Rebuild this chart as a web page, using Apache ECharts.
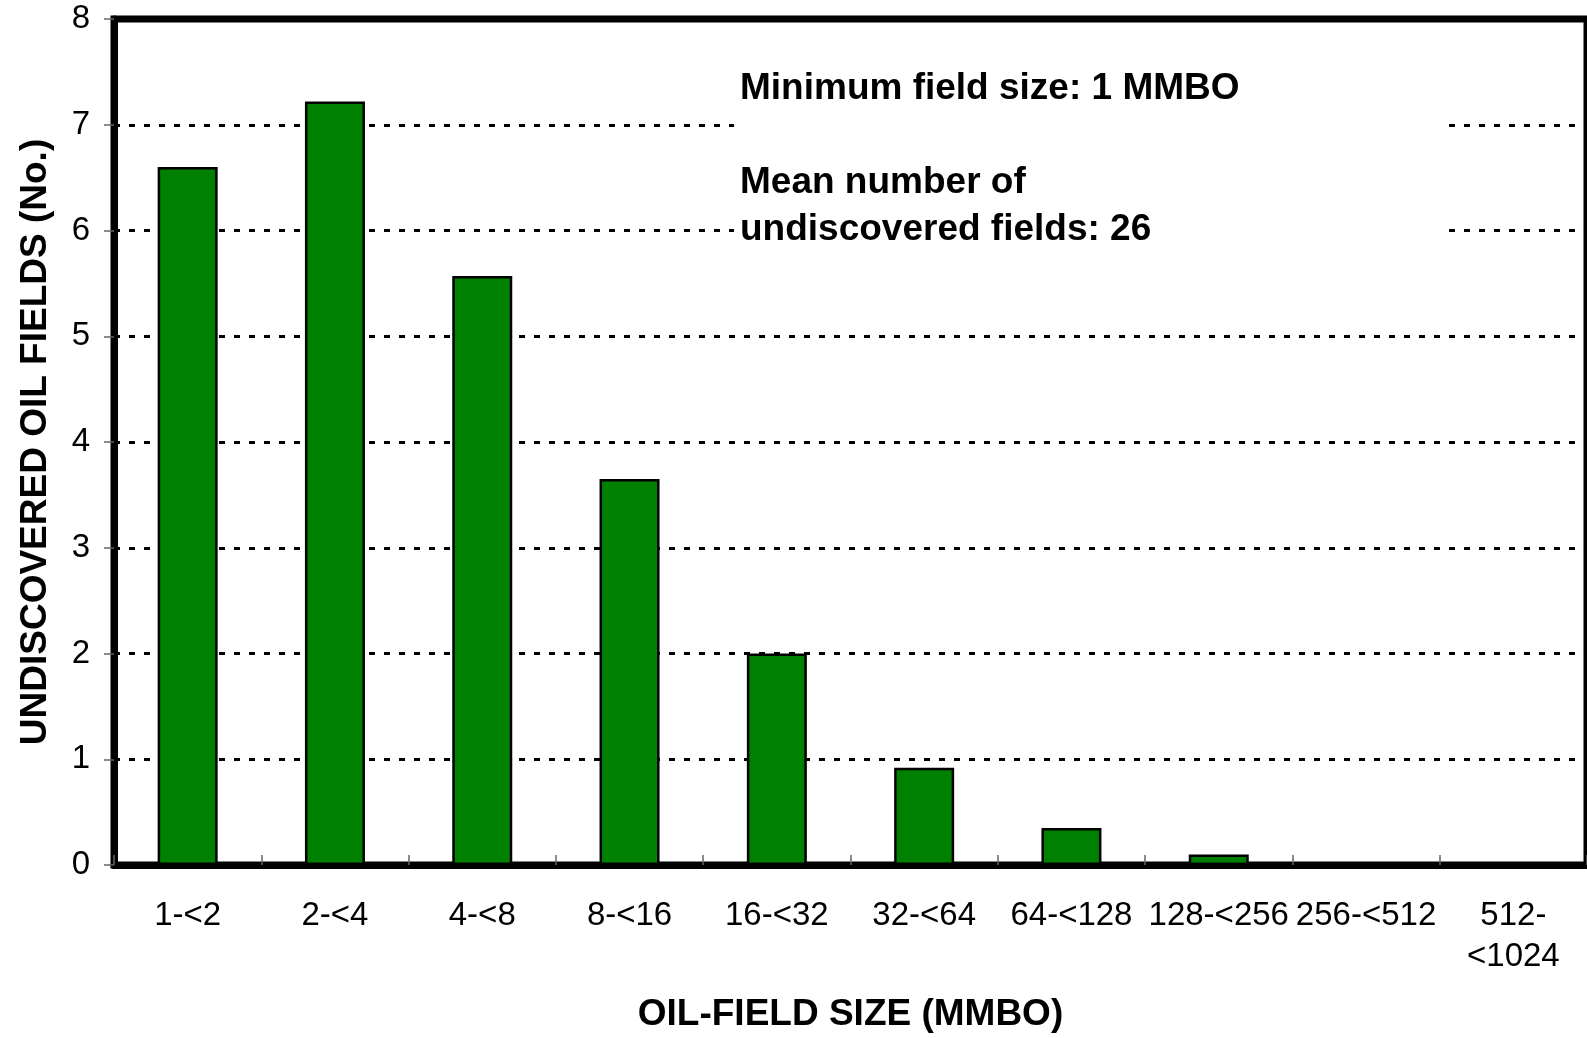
<!DOCTYPE html>
<html>
<head>
<meta charset="utf-8">
<script src="https://cdn.jsdelivr.net/npm/echarts@6/dist/echarts.min.js"></script>
<style>
html,body{margin:0;padding:0;background:#fff;}
#chart{width:1587px;height:1038px;}
</style>
</head>
<body>
<div id="chart"></div>
<script>
const categories = ['1-<2','2-<4','4-<8','8-<16','16-<32','32-<64','64-<128','128-<256','256-<512','512-<1024'];
const fieldCounts = [6.6, 7.22, 5.57, 3.65, 2.00, 0.92, 0.35, 0.10, 0, 0];
const yTicks = {min: 0, max: 8, interval: 1};
const xTitle = 'OIL-FIELD SIZE (MMBO)';
const yTitle = 'UNDISCOVERED OIL FIELDS (No.)';
const noteLines = ['Minimum field size: 1 MMBO', '', 'Mean number of', 'undiscovered fields: 26'];

const FONT = 'Liberation Sans, Arial, sans-serif';
const chart = echarts.init(document.getElementById('chart'), null, {renderer: 'canvas'});
chart.setOption({
  backgroundColor: '#fff',
  animation: false,
  grid: {left: 114, top: 19, width: 1481, height: 852, show: true, borderColor: '#000', borderWidth: 7, backgroundColor: 'transparent'},
  xAxis: {
    type: 'category',
    data: categories,
    boundaryGap: true,
    name: xTitle,
    nameLocation: 'middle',
    nameGap: 131,
    nameTextStyle: {fontFamily: FONT, fontSize: 37, fontWeight: 'bold', color: '#000'},
    axisLine: {show: true, lineStyle: {color: '#000', width: 7}},
    axisTick: {show: true, inside: true, length: 10, lineStyle: {color: '#666', width: 1.5}},
    axisLabel: {
      fontFamily: FONT, fontSize: 33, color: '#000', margin: 30, lineHeight: 41, interval: 0,
      formatter: v => v.length > 8 ? v.replace('-', '-\n') : v
    },
    splitLine: {show: false}
  },
  yAxis: {
    type: 'value',
    min: yTicks.min, max: yTicks.max, interval: yTicks.interval,
    name: yTitle,
    nameLocation: 'middle',
    nameRotate: 90,
    nameGap: 60,
    nameTextStyle: {fontFamily: FONT, fontSize: 37, fontWeight: 'bold', color: '#000'},
    axisLine: {show: true, lineStyle: {color: '#000', width: 7}},
    axisTick: {show: true, inside: false, length: 10, lineStyle: {color: '#666', width: 1.5}},
    axisLabel: {fontFamily: FONT, fontSize: 33, color: '#000', margin: 24},
    splitLine: {show: true, lineStyle: {color: '#000', width: 3, type: [6, 9]}}
  },
  graphic: [
    {type: 'rect', z: 5, shape: {x: 734, y: 48, width: 712, height: 215}, style: {fill: '#fff'}},
    {type: 'text', z: 6, left: 740, top: 65,
      style: {text: noteLines.join('\n'), font: 'bold 37px ' + FONT, fill: '#000', lineHeight: 47}}
  ],
  series: [{
    type: 'bar',
    data: fieldCounts,
    barWidth: 60,
    z: 3,
    itemStyle: {color: '#008000', borderColor: '#000', borderWidth: 2.5}
  }]
});
</script>
</body>
</html>
